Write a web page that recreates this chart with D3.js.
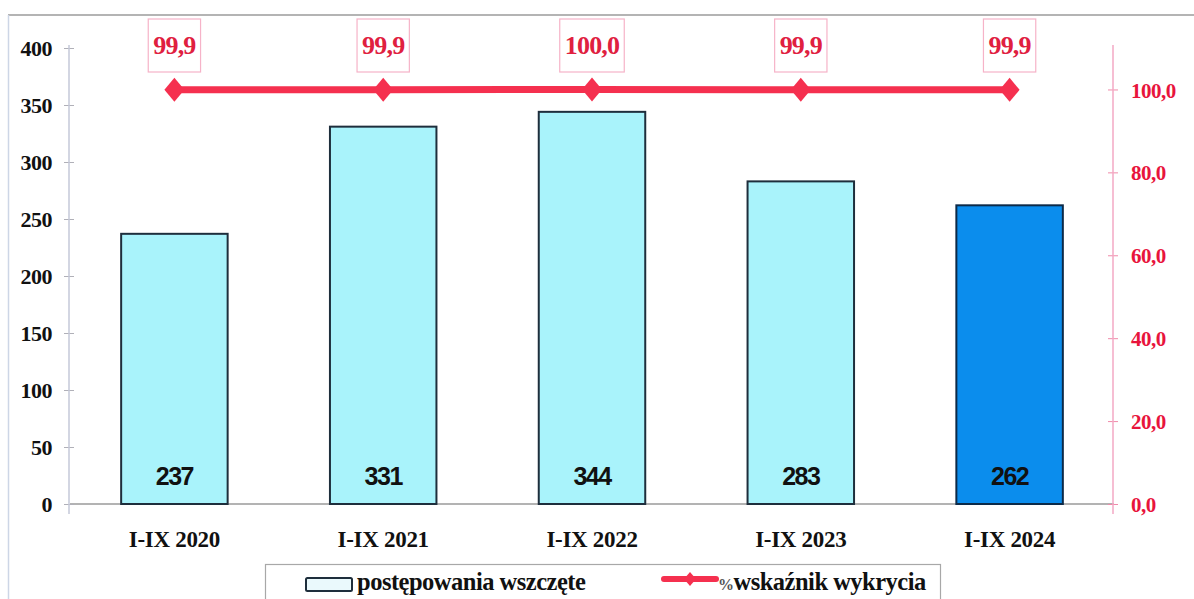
<!DOCTYPE html>
<html><head><meta charset="utf-8">
<script src="https://cdn.jsdelivr.net/npm/d3@7/dist/d3.min.js"></script>
<style>
html,body{margin:0;padding:0;background:#fff;}
svg{display:block;}
</style></head>
<body>
<svg id="chart" width="1194" height="599"></svg>
<script>
const categories = ["I-IX 2020","I-IX 2021","I-IX 2022","I-IX 2023","I-IX 2024"];
const cases = [237, 331, 344, 283, 262];
const detection = [99.9, 99.9, 100.0, 99.9, 99.9];
const detectionLabels = ["99,9","99,9","100,0","99,9","99,9"];
const leftTicks = [0,50,100,150,200,250,300,350,400];
const rightTicks = [0,20,40,60,80,100];
const barSeriesName = "postępowania wszczęte";
const lineSeriesName = "% wskaźnik wykrycia";

const svg = d3.select("#chart");
const serif = "'Liberation Serif','Times New Roman',serif";
const sans = "'Liberation Sans',Arial,sans-serif";

const x = d3.scaleBand().domain(categories).range([70, 1114]).paddingInner(0.49).paddingOuter(0.245);
const y = d3.scaleLinear().domain([0, 400]).range([504, 48]);
const y2 = d3.scaleLinear().domain([0, 110]).range([504, 48]);

// frame
svg.append("line").attr("x1",8).attr("x2",1194).attr("y1",15).attr("y2",15).attr("stroke","#b4b4b4").attr("stroke-width",2);
svg.append("line").attr("x1",8.5).attr("x2",8.5).attr("y1",15).attr("y2",599).attr("stroke","#cdd6e6").attr("stroke-width",1.5);

// baseline
svg.append("line").attr("x1",70).attr("x2",1114).attr("y1",y(0)).attr("y2",y(0)).attr("stroke","#9a9a9a").attr("stroke-width",1.5);

// left axis
const la = svg.append("g").attr("transform","translate(69,0)")
  .call(d3.axisLeft(y).tickValues(leftTicks).tickSize(0).tickPadding(17).tickFormat(d3.format("d")));
la.select(".domain").remove();
la.append("line").attr("x1",0).attr("x2",0).attr("y1",45).attr("y2",514).attr("stroke","#c5c8d8").attr("stroke-width",1.5);
la.selectAll(".tick").append("line").attr("x1",-5).attr("x2",5).attr("stroke","#b0b0b8");
la.selectAll(".tick text").attr("font-family",serif).attr("font-weight","bold").attr("font-size",22).attr("fill","#111").attr("dy","0.36em").attr("letter-spacing","-0.5");

// right axis
const ra = svg.append("g").attr("transform","translate(1113,0)")
  .call(d3.axisRight(y2).tickValues(rightTicks).tickSize(0).tickPadding(18).tickFormat(d => d3.format(".1f")(d).replace(".", ",")));
ra.select(".domain").remove();
ra.append("line").attr("x1",0).attr("x2",0).attr("y1",45).attr("y2",514).attr("stroke","#f3a9c4").attr("stroke-width",1.5);
ra.selectAll(".tick").append("line").attr("x1",-5).attr("x2",5).attr("stroke","#f08aaa");
ra.selectAll(".tick text").attr("font-family",serif).attr("font-weight","bold").attr("font-size",21).attr("fill","#e8143c").attr("dy","0.36em").attr("letter-spacing","-0.5");

// x axis labels
const xa = svg.append("g").attr("transform",`translate(0,${y(0)})`)
  .call(d3.axisBottom(x).tickSize(0).tickPadding(27));
xa.select(".domain").remove();
xa.selectAll(".tick text").attr("font-family",serif).attr("font-weight","bold").attr("font-size",23).attr("fill","#111").attr("letter-spacing","-0.3");

// bars
svg.append("g").selectAll("rect").data(cases).join("rect")
  .attr("x",(d,i)=>x(categories[i])).attr("width",x.bandwidth())
  .attr("y",d=>y(d)).attr("height",d=>y(0)-y(d))
  .attr("fill",(d,i)=> i===categories.length-1 ? "#0b8ded" : "#a9f3fb")
  .attr("stroke",(d,i)=> i===categories.length-1 ? "#0c2a48" : "#1e2e3c")
  .attr("stroke-width",2);

svg.append("g").selectAll("text").data(cases).join("text")
  .attr("x",(d,i)=>x(categories[i])+x.bandwidth()/2).attr("y",485)
  .attr("text-anchor","middle").attr("font-family",sans).attr("font-weight","bold")
  .attr("font-size",25).attr("letter-spacing","-1.5").attr("fill","#111").text(d=>d);

// line
const cx = (d,i)=> x(categories[i]) + x.bandwidth()/2;
const line = d3.line().x(cx).y(d=>y2(d));
svg.append("path").datum(detection).attr("d",line).attr("fill","none").attr("stroke","#f5304f").attr("stroke-width",7);
svg.append("g").selectAll("path").data(detection).join("path")
  .attr("transform",(d,i)=>`translate(${cx(d,i)},${y2(d)})`)
  .attr("d","M0,-12L10,0L0,12L-10,0Z").attr("fill","#f5304f");

// labels with boxes
const lg = svg.append("g").selectAll("g").data(detection).join("g");
lg.each(function(d,i){
  const g = d3.select(this);
  const rect = g.append("rect");
  const t = g.append("text").attr("x",cx(d,i)).attr("y",54).attr("text-anchor","middle")
    .attr("font-family",serif).attr("font-weight","bold").attr("font-size",26).attr("fill","#e0203f").attr("letter-spacing","-0.8").text(detectionLabels[i]);
  const w = t.node().getComputedTextLength();
  rect.attr("x",cx(d,i)-w/2-5).attr("width",w+10).attr("y",19).attr("height",53)
    .attr("fill","#fff").attr("stroke","#f6b3c8").attr("stroke-width",1.2);
});

// legend
const leg = svg.append("g");
leg.append("rect").attr("x",265.5).attr("y",564.5).attr("width",675).attr("height",60).attr("fill","#fff").attr("stroke","#a8a8a8").attr("stroke-width",1.2);
leg.append("rect").attr("x",306).attr("y",578).attr("width",46).attr("height",13).attr("fill","#eaf9fc").attr("stroke","#1e2e3c").attr("stroke-width",2).attr("rx",1.5);
leg.append("text").attr("x",357).attr("y",590).attr("font-family",serif).attr("font-weight","bold").attr("font-size",24.5).attr("fill","#111").attr("letter-spacing","-0.5").text(barSeriesName);
leg.append("line").attr("x1",664).attr("x2",716).attr("y1",579).attr("y2",579).attr("stroke","#f5304f").attr("stroke-width",6).attr("stroke-linecap","round");
leg.append("path").attr("transform","translate(690,579)").attr("d","M0,-7L6,0L0,7L-6,0Z").attr("fill","#f5304f");
const lt = leg.append("text").attr("x",718).attr("y",590).attr("font-family",serif).attr("font-weight","bold").attr("font-size",24.5).attr("fill","#111").attr("letter-spacing","-0.5");
lt.append("tspan").attr("font-size",16).attr("fill","#555").text("%");
lt.append("tspan").text(lineSeriesName.replace("% ",""));
</script>
</body></html>
